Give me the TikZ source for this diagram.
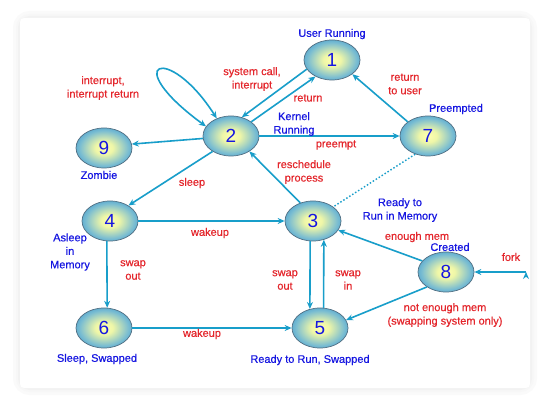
\documentclass[tikz,border=0pt]{standalone}
\usepackage{fontspec}
\setmainfont{Liberation Sans}
\newfontfamily\thicksans[FakeBold=0.5]{Liberation Sans}
\usetikzlibrary{shapes.geometric,arrows.meta}

\definecolor{flowblue}{RGB}{24,158,202}
\definecolor{txtblue}{RGB}{22,22,225}
\definecolor{txtred}{RGB}{228,38,44}
\definecolor{stcore}{RGB}{255,255,175}
\definecolor{stwarm}{RGB}{238,246,168}
\definecolor{stmid}{RGB}{120,188,210}
\definecolor{stedge}{RGB}{48,142,198}
\definecolor{strim}{RGB}{38,122,176}
\definecolor{stline}{RGB}{80,110,130}
\pgfdeclareradialshading{stateshade}{\pgfpointorigin}{color(0bp)=(stcore); color(8bp)=(stwarm); color(22bp)=(stmid); color(33bp)=(stedge); color(50bp)=(strim)}

\begin{document}
\begin{tikzpicture}[x=1pt,y=-1pt,>={Stealth[length=7pt,width=6pt]},
        state/.style={ellipse,draw=stline,line width=0.7pt,shading=stateshade,
          minimum width=56pt,minimum height=40pt,inner sep=0pt,
          text=txtblue,font=\fontsize{19}{19}\selectfont},
        statename/.style={text=txtblue,font=\thicksans\fontsize{11}{13.5}\selectfont,align=center,inner sep=0pt},
        edgetext/.style={text=txtred,font=\thicksans\fontsize{11}{13.5}\selectfont,align=center,inner sep=0pt},
        flow/.style={draw=flowblue,line width=1.6pt}]

    \useasboundingbox (0,0) rectangle (538,403);
    % card with soft shadow
    \fill[white] (0,0) rectangle (538,403);
    \foreach \w/\g in {14/2,8/3,4/5}
        \draw[line width=\w pt,black!\g,rounded corners=10pt] (20,18) rectangle (530,388);
    \fill[white,rounded corners=4pt] (20,18) rectangle (530,388);

    \node[state] (1) at (332,60) {1};
    \node[state] (2) at (231,136) {2};
    \node[state] (9) at (104,148) {9};
    \node[state] (7) at (428,136) {7};
    \node[state] (4) at (110,221) {4};
    \node[state] (3) at (313,221) {3};
    \node[state] (8) at (446,272) {8};
    \node[state] (6) at (104,328) {6};
    \node[state] (5) at (320,328) {5};
    \coordinate (forkin) at (526,272);

    \path[flow,->]
    (1.200) edge (2.60)
    (2.35) edge (1.225)
    (2.185) edge (9.8)
    (2.220) edge (4.40)
    (2) edge (7)
    (7.145) edge (1.325)
    (3.125) edge (2.320)
    (4) edge (3)
    (4.261) edge (6.81)
    (6) edge (5)
    (3.262) edge (5.118)
    (5.80) edge (3.300)
    (8.155) edge (3.340)
    (8.218) edge (5.17)
    (forkin) edge (8);
    \path[flow,line width=1.4pt,dash pattern=on 1.5pt off 2pt]
    (7.235) edge (3.35);
    \draw[flow,<->] (2.159) .. controls (118,62) and (168,42) .. (2.129);

    % state names
    \node[statename] (t1) at (332,34) {User Running};
    \node[statename] (t2) at (294,124) {Kernel\\Running};
    \node[statename] (t9) at (99,175) {Zombie};
    \node[statename] (t7) at (456,109) {Preempted};
    \node[statename] (t4) at (70,252) {Asleep\\in\\Memory};
    \node[statename] (t3) at (400,210) {Ready to\\Run in Memory};
    \node[statename] (t8) at (450,247) {Created};
    \node[statename] (t6) at (97,359) {Sleep, Swapped};
    \node[statename] (t5) at (310,360) {Ready to Run, Swapped};

    % transitions
    \node[edgetext] (l-int) at (103,88) {interrupt,\\interrupt return};
    \node[edgetext] (l-sys) at (252,79) {system call,\\interrupt};
    \node[edgetext] (l-ret) at (308,98) {return};
    \node[edgetext] (l-user) at (405,84) {return\\to user};
    \node[edgetext] (l-pre) at (336,145) {preempt};
    \node[edgetext] (l-sleep) at (192,183) {sleep};
    \node[edgetext] (l-res) at (304,172) {reschedule\\process};
    \node[edgetext] (l-wake1) at (210,233) {wakeup};
    \node[edgetext] (l-out1) at (133,270) {swap\\out};
    \node[edgetext] (l-wake2) at (202,334) {wakeup};
    \node[edgetext] (l-out2) at (285,280) {swap\\out};
    \node[edgetext] (l-in) at (348,280) {swap\\in};
    \node[edgetext] (l-mem) at (417,237) {enough mem};
    \node[edgetext] (l-nomem) at (445,315) {not enough mem\\(swapping system only)};
    \node[edgetext] (l-fork) at (511,257) {fork};
\end{tikzpicture}
\end{document}
